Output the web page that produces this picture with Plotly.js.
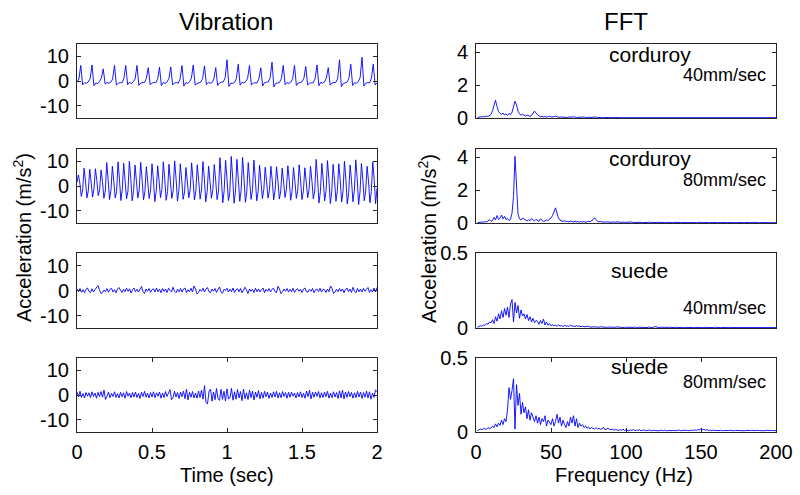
<!DOCTYPE html>
<html>
<head>
<meta charset="utf-8">
<script src="https://cdn.plot.ly/plotly-3.0.1.min.js"></script>
<style>html,body{margin:0;padding:0;background:#fff}#chart{width:800px;height:495px}</style>
</head>
<body>
<div id="chart"></div>
<script>
// ---------- DATA ----------
const columnTitles = ["Vibration", "FFT"];
const panelLabels = ["corduroy", "corduroy", "suede", "suede"];
const speedLabels = ["40mm/sec", "80mm/sec", "40mm/sec", "80mm/sec"];
const timeTicks = [0, 0.5, 1, 1.5, 2];
const freqTicks = [0, 50, 100, 150, 200];
const vibTicks = [-10, 0, 10];
const fftTicksCorduroy = [0, 2, 4];
const fftTicksSuede = [0, 0.5];

// sample spacing of the recorded series
const vibCorduroy40Step = 0.0125;   // s
const vibCorduroy80Step = 2 / 212;  // s
const vibSuedeStep = 0.01;          // s
const fftStartHz = 1, fftStepHz = 1;

// vibration, corduroy 40 mm/sec (m/s^2)
const vibCorduroy40 = [
-0.5,0.8,
6.3,-1.6,-0.7,-0.9,-0.4,0.9, 6.5,-1.9,-0.8,-1.1,-0.2,1.2, 4.9,-1.2,-0.6,-0.9,-0.5,0.8,
6.3,-1.7,-0.9,-0.6,-0.8,1.0, 6.3,-1.5,-0.5,-1.0,-0.3,0.9, 6.3,-1.8,-0.8,-0.7,-0.6,1.1,
5.4,-1.4,-0.9,-0.5,-0.7,0.7, 5.6,-1.9,-0.6,-1.0,-0.4,1.0, 5.7,-1.6,-0.8,-0.6,-0.9,0.9,
6.3,-2.1,-0.7,-0.9,-0.3,1.1, 6.5,-1.7,-1.0,-0.6,-0.5,1.0, 6.1,-1.5,-0.6,-0.9,-0.7,0.8,
5.4,-1.8,-0.8,-0.5,-0.4,1.2, 8.6,-2.2,-0.9,-1.0,-0.6,1.0, 6.8,-1.7,-0.5,-0.8,-0.3,1.1,
6.3,-1.6,-0.9,-0.7,-0.8,0.9, 5.4,-2.0,-0.7,-0.5,-0.4,1.3, 7.6,-2.4,-1.0,-0.8,-0.6,1.0,
6.3,-1.5,-0.6,-1.0,-0.5,0.9, 6.3,-1.8,-0.8,-0.6,-0.3,1.1, 5.9,-1.6,-0.9,-0.7,-0.7,1.0,
6.5,-1.9,-0.5,-0.9,-0.4,1.2, 5.4,-1.7,-0.8,-0.6,-0.6,0.9, 8.6,-2.3,-1.0,-0.8,-0.5,1.0,
6.8,-1.8,-0.7,-0.9,-0.3,1.4, 9.6,-2.1,-0.9,-0.6,-0.8,1.1, 6.8,-1.6,-0.7
];

// vibration, corduroy 80 mm/sec
const vibCorduroy80 = [
1.5,
4.5,1.2,-4.2,-1.6, 7.2,2.1,-4.8,-1.9, 6.8,1.6,-4.5,-1.2, 7.0,2.4,-3.9,-1.5, 6.5,1.8,-5.0,-2.0,
9.5,2.6,-5.5,-1.7, 8.0,1.9,-4.8,-2.2, 9.8,2.8,-5.9,-1.4, 9.2,2.2,-5.2,-2.1, 10.0,3.0,-6.0,-1.8,
8.5,2.0,-4.9,-1.5, 9.6,2.7,-5.6,-2.3, 7.8,1.7,-5.1,-1.6, 9.0,2.5,-6.3,-2.0, 8.2,2.1,-4.7,-1.3,
9.8,2.9,-5.8,-2.2, 8.8,2.0,-5.0,-1.7, 10.2,3.1,-6.1,-1.9, 9.0,2.3,-5.4,-2.4, 7.5,1.6,-4.8,-1.4,
9.4,2.6,-5.7,-2.0, 8.6,2.2,-5.3,-1.6, 9.9,2.8,-6.4,-2.2, 8.0,1.8,-5.0,-1.5, 8.7,2.4,-5.5,-2.1,
11.5,3.2,-6.8,-1.8, 10.4,2.7,-5.9,-2.5, 12.0,3.4,-7.0,-2.0, 10.8,2.9,-6.2,-1.7, 11.6,3.1,-6.6,-2.3,
9.5,2.5,-5.4,-1.9, 10.5,2.8,-6.0,-2.2, 8.4,2.0,-5.1,-1.5, 7.6,1.7,-4.9,-1.8, 8.0,2.2,-5.6,-1.6,
7.8,1.9,-5.3,-2.0, 7.2,1.6,-4.6,-1.4, 8.2,2.3,-5.8,-2.1, 7.5,1.8,-5.0,-1.7, 8.6,2.4,-5.5,-1.9,
7.4,1.7,-4.8,-1.5, 8.0,2.1,-5.2,-2.0, 10.8,3.0,-6.9,-2.3, 9.2,2.4,-6.0,-1.8, 10.3,2.9,-7.1,-2.4,
8.8,2.2,-6.2,-1.9, 9.0,2.5,-6.5,-2.2, 10.0,2.8,-7.3,-2.6, 8.5,2.1,-6.4,-1.8, 10.6,3.0,-7.5,-2.4,
9.1,2.4,-6.0,-2.0, 8.0,2.0,-6.8,-2.3, 9.8,2.7,-7.2,-1.0
];

// vibration, suede 40 mm/sec
const vibSuede40 = [
0.6,-0.5,0.8,-0.7,0.3,-0.9,0.5,1.0,-0.4,-0.8,
0.7,-0.6,0.4,1.3,1.9,0.3,-1.2,-0.9,0.2,-0.5,
0.8,-0.7,0.5,0.9,-0.6,0.3,-0.9,0.6,1.2,0.1,
-0.8,0.5,-0.5,0.9,-0.3,0.7,-1.0,0.3,1.0,-0.5,
0.5,-0.6,0.8,1.6,-0.4,-1.2,0.6,-0.3,0.8,-0.7,
0.3,0.7,-0.6,1.0,-0.5,0.5,-0.9,0.8,-0.3,0.6,
-0.8,0.9,0.1,-0.6,1.3,-0.3,-0.9,0.5,-0.5,0.8,
-0.6,0.6,1.0,-0.8,0.3,-0.5,0.9,-0.6,1.8,0.7,
-1.4,-0.8,0.4,-0.3,0.9,-0.6,0.5,1.2,-0.5,-0.9,
0.6,-0.3,0.8,-0.8,0.3,1.4,-0.6,-1.1,0.5,0.0,
0.9,-0.6,0.5,-0.5,1.0,-0.8,0.3,0.7,-0.5,0.8,
-0.9,0.5,1.3,0.2,-1.2,0.6,-0.3,0.5,-0.8,0.9,
-0.5,0.6,-0.6,0.3,1.0,-0.9,0.5,-0.3,0.8,-0.6,
0.5,0.9,-0.5,-0.8,1.7,0.6,-1.3,-0.5,0.6,-0.3,
0.8,-0.6,0.5,-0.5,0.9,-0.8,0.3,0.7,-0.3,0.5,
-0.8,0.6,1.0,-0.5,-0.6,0.5,-0.3,0.8,-0.9,0.3,
0.6,-0.5,0.9,-0.6,0.5,0.3,-0.8,0.6,-0.5,1.8,
0.8,-1.2,-0.6,0.5,-0.5,0.8,-0.3,0.6,-0.9,0.5,
1.0,-0.5,0.6,-0.8,1.3,-0.3,-0.9,0.8,-0.5,0.6,
-0.6,0.9,-0.3,0.5,1.2,-0.8,0.3,-0.5,1.0,-0.6,
1.2
];

// vibration, suede 80 mm/sec
const vibSuede80 = [
1.2,-0.8,1.5,-1.0,0.6,-1.2,1.0,-0.5,0.9,-1.1,
1.3,-0.6,0.8,-1.3,1.1,-0.7,1.4,-0.9,2.0,-1.8,
-0.5,1.2,-1.1,0.7,-0.6,1.3,-1.0,0.5,-1.2,1.1,
-0.7,0.9,-1.3,1.4,-0.5,0.8,-1.1,1.0,-0.8,1.2,
-1.0,0.6,-1.4,1.1,-0.6,1.5,-0.9,0.7,-1.2,1.0,
-0.8,1.3,-1.1,0.9,-0.5,1.2,-1.3,0.8,-1.0,1.4,
-0.6,1.1,2.2,-1.9,-1.2,1.5,-0.8,1.0,-1.4,1.2,
-0.7,1.6,-1.5,2.3,-2.0,1.1,-0.9,1.4,-1.2,0.8,
-1.3,1.6,-1.0,2.0,-1.7,3.8,-3.0,-3.6,1.5,2.4,
-2.5,1.2,-1.9,2.6,-1.4,-2.2,2.3,-1.8,1.5,-2.4,
2.5,-1.6,-1.1,2.7,-2.1,1.3,-1.7,2.2,-1.2,1.4,
-2.3,2.4,-1.5,0.9,-1.8,2.0,-1.1,1.6,-2.0,1.2,
-0.9,1.8,-1.6,1.1,-1.3,1.5,-0.7,1.2,-1.4,0.8,
-1.0,1.3,-0.8,1.5,-1.2,0.9,-1.1,1.4,-0.6,1.0,
-1.3,1.1,-0.9,1.2,-0.5,0.8,-1.2,1.0,-0.8,1.3,
-1.0,0.7,-1.3,1.6,-0.7,1.9,-1.6,1.1,-0.9,1.2,
-0.6,1.4,-1.2,0.9,-1.0,1.2,-0.7,1.5,-1.3,0.8,
-1.1,1.3,-0.8,1.0,-1.4,1.7,-1.2,2.0,-1.6,1.2,
-1.0,1.4,-0.7,1.1,-1.3,0.9,-1.1,1.5,-0.8,1.2,
-1.4,1.0,-0.9,1.6,-1.2,1.3,-1.7,0.8,-1.0,2.1,
1.3
];

// FFT magnitude, 1..200 Hz
const fftCorduroy40 = [
0.02,0.05,0.08,0.06,0.10,0.07,0.12,0.09,0.15,0.22,
0.45,0.85,1.08,0.70,0.40,0.28,0.22,0.30,0.18,0.25,
0.15,0.28,0.20,0.35,0.65,1.02,0.80,0.42,0.25,0.18,
0.22,0.15,0.12,0.18,0.14,0.10,0.16,0.28,0.42,0.30,
0.18,0.12,0.08,0.10,0.06,0.09,0.05,0.07,0.11,0.06,
0.05,0.08,0.12,0.07,0.04,0.06,0.05,0.08,0.04,0.05,
0.03,0.06,0.04,0.05,0.08,0.04,0.03,0.05,0.03,0.04,
0.06,0.03,0.04,0.02,0.05,0.03,0.04,0.03,0.05,0.06,
0.03,0.02,0.04,0.03,0.02,0.03,0.04,0.02,0.03,0.02,
0.03,0.02,0.04,0.02,0.03,0.02,0.02,0.03,0.02,0.03,
0.02,0.01,0.02,0.03,0.01,0.02,0.02,0.01,0.03,0.02,
0.01,0.02,0.02,0.01,0.02,0.03,0.01,0.02,0.01,0.02,
0.02,0.01,0.02,0.01,0.03,0.02,0.01,0.02,0.02,0.01,
0.02,0.01,0.02,0.02,0.01,0.03,0.02,0.01,0.02,0.01,
0.02,0.02,0.01,0.02,0.01,0.02,0.03,0.01,0.02,0.02,
0.01,0.02,0.01,0.02,0.02,0.01,0.02,0.01,0.03,0.02,
0.01,0.02,0.02,0.01,0.02,0.01,0.02,0.02,0.01,0.02,
0.03,0.01,0.02,0.01,0.02,0.02,0.01,0.02,0.01,0.02,
0.02,0.01,0.02,0.03,0.01,0.02,0.01,0.02,0.02,0.01,
0.02,0.01,0.02,0.02,0.01,0.02,0.01,0.02,0.01,0.02
];
const fftCorduroy80 = [
0.02,0.04,0.03,0.06,0.05,0.08,0.06,0.12,0.20,0.10,
0.15,0.35,0.18,0.45,0.22,0.30,0.48,0.25,0.40,0.20,
0.28,0.15,0.22,0.60,1.60,4.05,1.80,0.55,0.25,0.18,
0.30,0.22,0.15,0.12,0.20,0.14,0.28,0.18,0.12,0.22,
0.16,0.10,0.25,0.14,0.09,0.12,0.18,0.15,0.22,0.30,
0.45,0.75,0.92,0.60,0.30,0.18,0.12,0.09,0.14,0.08,
0.10,0.07,0.12,0.08,0.06,0.10,0.07,0.09,0.05,0.08,
0.06,0.09,0.05,0.07,0.10,0.08,0.12,0.20,0.32,0.18,
0.10,0.07,0.09,0.06,0.05,0.08,0.06,0.07,0.05,0.04,
0.06,0.04,0.05,0.07,0.04,0.05,0.03,0.06,0.04,0.05,
0.04,0.03,0.05,0.06,0.03,0.04,0.02,0.05,0.03,0.04,
0.03,0.02,0.04,0.03,0.05,0.02,0.03,0.04,0.02,0.03,
0.04,0.03,0.02,0.05,0.03,0.02,0.04,0.03,0.06,0.03,
0.02,0.04,0.03,0.02,0.03,0.04,0.02,0.03,0.02,0.04,
0.03,0.02,0.03,0.02,0.04,0.03,0.02,0.03,0.05,0.02,
0.03,0.02,0.04,0.03,0.02,0.03,0.02,0.04,0.02,0.03,
0.02,0.03,0.02,0.04,0.02,0.03,0.02,0.03,0.02,0.02,
0.03,0.02,0.04,0.02,0.03,0.02,0.02,0.03,0.02,0.03,
0.02,0.03,0.02,0.02,0.04,0.02,0.03,0.02,0.02,0.03,
0.02,0.02,0.03,0.02,0.02,0.03,0.02,0.02,0.03,0.02
];
const fftSuede40 = [
0.005,0.010,0.015,0.012,0.020,0.018,0.030,0.025,0.040,0.035,
0.055,0.030,0.075,0.045,0.095,0.060,0.115,0.070,0.130,0.085,
0.140,0.070,0.160,0.190,0.040,0.170,0.100,0.150,0.065,0.120,
0.080,0.095,0.060,0.090,0.050,0.075,0.040,0.065,0.035,0.050,
0.045,0.025,0.050,0.030,0.060,0.020,0.040,0.018,0.030,0.015,
0.022,0.015,0.018,0.012,0.020,0.014,0.016,0.010,0.018,0.012,
0.015,0.010,0.020,0.012,0.014,0.009,0.016,0.011,0.013,0.008,
0.012,0.008,0.010,0.007,0.011,0.006,0.009,0.007,0.008,0.006,
0.007,0.005,0.008,0.006,0.005,0.007,0.004,0.006,0.005,0.004,
0.006,0.004,0.005,0.008,0.004,0.005,0.003,0.006,0.004,0.005,
0.004,0.006,0.003,0.005,0.004,0.007,0.003,0.005,0.004,0.006,
0.003,0.005,0.004,0.003,0.006,0.004,0.005,0.003,0.010,0.006,
0.004,0.003,0.005,0.004,0.003,0.006,0.003,0.004,0.005,0.003,
0.004,0.003,0.005,0.003,0.004,0.003,0.004,0.006,0.003,0.004,
0.003,0.005,0.003,0.004,0.003,0.004,0.003,0.005,0.003,0.004,
0.003,0.004,0.003,0.005,0.003,0.003,0.004,0.003,0.005,0.003,
0.004,0.003,0.003,0.004,0.003,0.005,0.003,0.003,0.004,0.003,
0.003,0.004,0.003,0.003,0.005,0.003,0.004,0.003,0.003,0.004,
0.003,0.003,0.004,0.003,0.003,0.004,0.003,0.003,0.004,0.003,
0.003,0.004,0.003,0.003,0.004,0.003,0.003,0.003,0.004,0.003
];
const fftSuede80 = [
0.010,0.015,0.020,0.015,0.025,0.020,0.018,0.030,0.022,0.028,
0.040,0.030,0.055,0.035,0.060,0.045,0.080,0.050,0.090,0.070,
0.150,0.300,0.220,0.280,0.360,0.020,0.320,0.180,0.260,0.120,
0.200,0.130,0.170,0.090,0.150,0.080,0.130,0.100,0.070,0.110,
0.060,0.100,0.050,0.090,0.070,0.110,0.040,0.080,0.060,0.050,
0.090,0.040,0.070,0.120,0.060,0.100,0.040,0.080,0.050,0.030,
0.070,0.040,0.100,0.060,0.110,0.040,0.090,0.030,0.060,0.040,
0.050,0.030,0.040,0.025,0.035,0.020,0.030,0.025,0.020,0.030,
0.020,0.025,0.018,0.022,0.030,0.015,0.020,0.025,0.018,0.015,
0.020,0.012,0.018,0.015,0.010,0.016,0.012,0.020,0.010,0.014,
0.012,0.008,0.015,0.010,0.018,0.009,0.013,0.011,0.016,0.008,
0.012,0.014,0.009,0.011,0.010,0.013,0.008,0.012,0.010,0.009,
0.011,0.008,0.012,0.010,0.009,0.013,0.008,0.010,0.012,0.009,
0.010,0.008,0.011,0.009,0.014,0.010,0.008,0.012,0.009,0.011,
0.010,0.008,0.012,0.009,0.011,0.015,0.010,0.018,0.012,0.025,
0.014,0.020,0.011,0.016,0.010,0.013,0.009,0.012,0.010,0.008,
0.011,0.009,0.012,0.008,0.010,0.009,0.011,0.008,0.010,0.012,
0.009,0.008,0.011,0.010,0.008,0.012,0.009,0.010,0.008,0.011,
0.009,0.008,0.010,0.012,0.008,0.009,0.011,0.008,0.010,0.009,
0.008,0.010,0.009,0.012,0.008,0.009,0.010,0.008,0.011,0.009
];

// ---------- CHART ----------
const W = 800, H = 495;
const FONT = "Liberation Sans, Arial, Helvetica, sans-serif";
const BLUE = "#0000FF";
const AXC = "#262626";
const px = v => v / W;
const py = v => 1 - v / H;

const leftDom = [px(77), px(377)];
const rightDom = [px(476), px(776)];
const rowsPx = [[44,118],[149,223],[253,328],[358,432]];

const series = [
  {y: vibCorduroy40, x0: 0, dx: vibCorduroy40Step},
  {y: fftCorduroy40, x0: fftStartHz, dx: fftStepHz},
  {y: vibCorduroy80, x0: 0, dx: vibCorduroy80Step},
  {y: fftCorduroy80, x0: fftStartHz, dx: fftStepHz},
  {y: vibSuede40, x0: 0, dx: vibSuedeStep},
  {y: fftSuede40, x0: fftStartHz, dx: fftStepHz},
  {y: vibSuede80, x0: 0, dx: vibSuedeStep},
  {y: fftSuede80, x0: fftStartHz, dx: fftStepHz}
];

const traces = series.map((s, i) => ({
  type: "scatter", mode: "lines",
  y: s.y, x0: s.x0, dx: s.dx,
  xaxis: "x" + (i + 1), yaxis: "y" + (i + 1),
  line: {color: BLUE, width: 0.9},
  hoverinfo: "skip", showlegend: false
}));

const layout = {
  width: W, height: H,
  margin: {l: 0, r: 0, t: 0, b: 0},
  paper_bgcolor: "#fff", plot_bgcolor: "#fff",
  font: {family: FONT, size: 20, color: "#000"},
  showlegend: false,
  annotations: []
};

for (let i = 0; i < 8; i++) {
  const row = Math.floor(i / 2), col = i % 2;
  const bottom = row === 3;
  const xa = {
    domain: col === 0 ? leftDom : rightDom,
    anchor: "y" + (i + 1),
    range: col === 0 ? [0, 2] : [0, 200],
    showline: true, linecolor: AXC, linewidth: 1,
    showgrid: false, zeroline: false
  };
  if (bottom) {
    Object.assign(xa, {
      tickmode: "array",
      tickvals: col === 0 ? timeTicks : freqTicks,
      ticktext: (col === 0 ? timeTicks : freqTicks).map(String),
      ticks: "inside", ticklen: 4, tickwidth: 1, tickcolor: AXC,
      mirror: "ticks",
      tickfont: {family: FONT, size: 20, color: "#000"},
      ticklabelstandoff: 2
    });
  } else {
    Object.assign(xa, {showticklabels: false, ticks: "", mirror: true});
  }
  let yr, yt;
  if (col === 0) { yr = [-15, 15]; yt = vibTicks; }
  else if (row < 2) { yr = [0, 4.5]; yt = fftTicksCorduroy; }
  else { yr = [0, 0.5]; yt = fftTicksSuede; }
  const ya = {
    domain: [py(rowsPx[row][1]), py(rowsPx[row][0])],
    anchor: "x" + (i + 1),
    range: yr,
    tickmode: "array", tickvals: yt, ticktext: yt.map(String),
    ticks: "inside", ticklen: 4, tickwidth: 1, tickcolor: AXC,
    showline: true, linecolor: AXC, linewidth: 1, mirror: "ticks",
    showgrid: false, zeroline: false,
    tickfont: {family: FONT, size: 20, color: "#000"},
    ticklabelstandoff: 3
  };
  layout["xaxis" + (i + 1)] = xa;
  layout["yaxis" + (i + 1)] = ya;
}

const ann = layout.annotations;
const txt = (text, x, y, size, xanchor, extra) => ann.push(Object.assign({
  text: text, x: px(x), y: py(y), xref: "paper", yref: "paper",
  xanchor: xanchor || "center", yanchor: "middle", showarrow: false,
  font: {family: FONT, size: size, color: "#000"}
}, extra || {}));

// column titles
txt(columnTitles[0], 226, 21, 24);
txt(columnTitles[1], 626, 21, 24);
// x axis titles
txt("Time (sec)", 227, 475, 20);
txt("Frequency (Hz)", 624, 475, 20);
// y axis titles
[22, 427].forEach(xp => txt("Acceleration (m/s<sup>2</sup>)", xp, 238, 20, "center", {textangle: -90}));
// panel labels
const labelPos = [[650,54,768,75],[650,158,768,180],[639,270,768,308],[639,366,768,382]];
labelPos.forEach((p, r) => {
  txt(panelLabels[r], p[0], p[1], 21);
  txt(speedLabels[r], p[2], p[3], 18, "right");
});

Plotly.newPlot("chart", traces, layout, {staticPlot: true, displayModeBar: false});
</script>
</body>
</html>
